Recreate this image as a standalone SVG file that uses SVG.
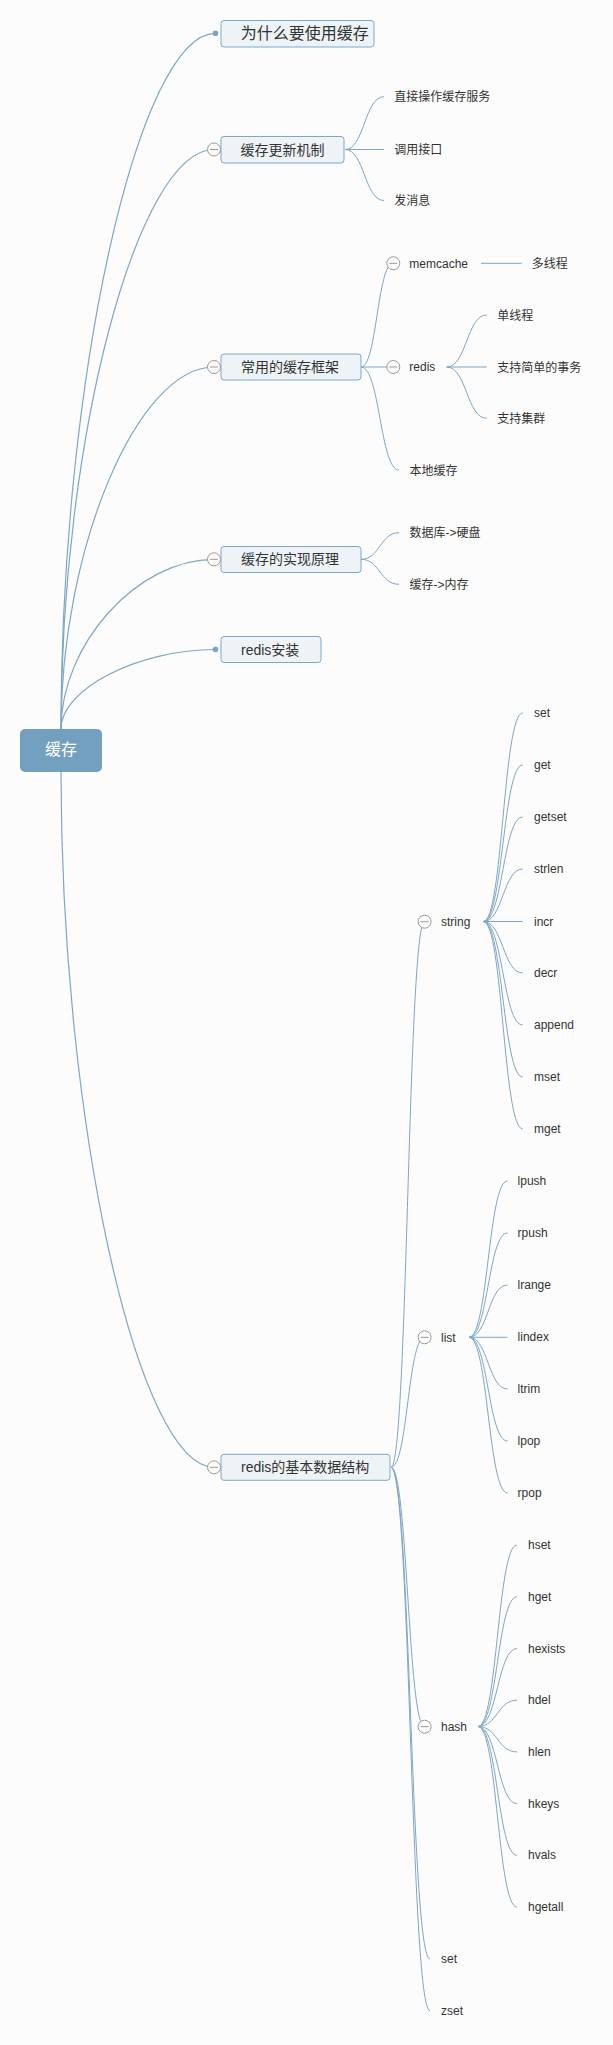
<svg xmlns="http://www.w3.org/2000/svg" width="613" height="2045" viewBox="0 0 613 2045">
<style>
.bg{fill:#fcfcfc}
.ln{fill:none;stroke:#7ea6c6;stroke-width:1}
.lr{fill:none;stroke:#7ea6c6;stroke-width:1.2}
.box{fill:#eef3f7;stroke:#7ea7c8;stroke-width:1}
.root{fill:#74a0c0}
.t{font-family:"Liberation Sans","Noto Sans CJK SC",sans-serif;fill:#333}
.t12{font-size:12px}
.t14{font-size:14px}
.t16{font-size:16px}
.rt{font-family:"Liberation Sans","Noto Sans CJK SC",sans-serif;font-size:16px;fill:#fff}
.col{fill:#fcfcfc;stroke:#9a9a9a;stroke-width:1}
.minus{stroke:#9a9a9a;stroke-width:1}
.dot{fill:#7aa3c5}
</style>
<rect class="bg" x="0" y="0" width="613" height="2045"/>
<g id="connectors">
<path class="lr" d="M61,729 C61,381 138,33.3 215.5,33.3"/>
<path class="lr" d="M61,729 C61,439 137.5,149.5 214,149.5"/>
<path class="lr" d="M61,729 C61,548 137.5,367 214,367"/>
<path class="lr" d="M61,729 C61,644 137.5,559.3 214,559.3"/>
<path class="lr" d="M61,729 C61,689 138,649.5 215.5,649.5"/>
<path class="lr" d="M61,772 C61,1120 137.5,1467.3 214,1467.3"/>
<path class="ln" d="M345,149.5 C364.5,149.5 364.5,96.7 384,96.7"/>
<path class="ln" d="M345,149.5 L384,149.5"/>
<path class="ln" d="M345,149.5 C364.5,149.5 364.5,200.5 384,200.5"/>
<path class="ln" d="M361,367 C377,367 377,263.3 393.3,263.3"/>
<path class="ln" d="M361,367 L393.3,367"/>
<path class="ln" d="M361,367 C380,367 380,470 399,470"/>
<path class="ln" d="M481,263.3 L521.7,263.3"/>
<path class="ln" d="M446.7,367 C466.7,367 466.7,315 486.7,315"/>
<path class="ln" d="M446.7,367 L486.7,367"/>
<path class="ln" d="M446.7,367 C466.7,367 466.7,418.3 486.7,418.3"/>
<path class="ln" d="M361,559.3 C380,559.3 380,532.7 399,532.7"/>
<path class="ln" d="M361,559.3 C380,559.3 380,584.3 399,584.3"/>
<path class="ln" d="M391,1467.3 C407.8,1467.3 407.8,921.7 424.6,921.7"/>
<path class="ln" d="M391,1467.3 C407.8,1467.3 407.8,1337.3 424.6,1337.3"/>
<path class="ln" d="M391,1467.3 C407.8,1467.3 407.8,1726.7 424.6,1726.7"/>
<path class="ln" d="M391,1467.3 C410.5,1467.3 410.5,1959 430,1959"/>
<path class="ln" d="M391,1467.3 C410.5,1467.3 410.5,2010.7 430,2010.7"/>
<path class="ln" d="M483.3,921.5 C503,921.5 503,713 522.7,713"/>
<path class="ln" d="M483.3,921.5 C503,921.5 503,765 522.7,765"/>
<path class="ln" d="M483.3,921.5 C503,921.5 503,817 522.7,817"/>
<path class="ln" d="M483.3,921.5 C503,921.5 503,869 522.7,869"/>
<path class="ln" d="M483.3,921.5 L522.7,921.5"/>
<path class="ln" d="M483.3,921.5 C503,921.5 503,973 522.7,973"/>
<path class="ln" d="M483.3,921.5 C503,921.5 503,1025 522.7,1025"/>
<path class="ln" d="M483.3,921.5 C503,921.5 503,1077 522.7,1077"/>
<path class="ln" d="M483.3,921.5 C503,921.5 503,1129 522.7,1129"/>
<path class="ln" d="M469,1337.3 C488.2,1337.3 488.2,1181 507.5,1181"/>
<path class="ln" d="M469,1337.3 C488.2,1337.3 488.2,1233 507.5,1233"/>
<path class="ln" d="M469,1337.3 C488.2,1337.3 488.2,1285 507.5,1285"/>
<path class="ln" d="M469,1337.3 L507.5,1337.3"/>
<path class="ln" d="M469,1337.3 C488.2,1337.3 488.2,1389 507.5,1389"/>
<path class="ln" d="M469,1337.3 C488.2,1337.3 488.2,1441 507.5,1441"/>
<path class="ln" d="M469,1337.3 C488.2,1337.3 488.2,1493 507.5,1493"/>
<path class="ln" d="M478,1726.5 C497.5,1726.5 497.5,1545 517,1545"/>
<path class="ln" d="M478,1726.5 C497.5,1726.5 497.5,1596.8 517,1596.8"/>
<path class="ln" d="M478,1726.5 C497.5,1726.5 497.5,1648.5 517,1648.5"/>
<path class="ln" d="M478,1726.5 C497.5,1726.5 497.5,1700.2 517,1700.2"/>
<path class="ln" d="M478,1726.5 C497.5,1726.5 497.5,1751.9 517,1751.9"/>
<path class="ln" d="M478,1726.5 C497.5,1726.5 497.5,1803.6 517,1803.6"/>
<path class="ln" d="M478,1726.5 C497.5,1726.5 497.5,1855.3 517,1855.3"/>
<path class="ln" d="M478,1726.5 C497.5,1726.5 497.5,1907 517,1907"/>
</g>
<g id="root">
<rect class="root" x="20" y="729" width="82" height="43" rx="5"/>
<text class="rt" x="61" y="755" text-anchor="middle">缓存</text>
</g>
<g id="n-why">
<rect class="box" x="221" y="20.5" width="153" height="26.5" rx="3"/>
<circle class="dot" cx="215.5" cy="33.3" r="2.8"/>
<text class="t t16" x="240.7" y="39">为什么要使用缓存</text>
</g>
<g id="n-update">
<rect class="box" x="221" y="136.5" width="123" height="26.5" rx="3"/>
<circle class="col" cx="214" cy="149.5" r="6.5"/><line class="minus" x1="210" y1="149.5" x2="218" y2="149.5"/>
<text class="t t14" x="240.5" y="154.5">缓存更新机制</text>
</g>
<g id="n-update-1"><text class="t t12" x="394.3" y="101">直接操作缓存服务</text></g>
<g id="n-update-2"><text class="t t12" x="394.3" y="153.5">调用接口</text></g>
<g id="n-update-3"><text class="t t12" x="394.3" y="205">发消息</text></g>
<g id="n-framework">
<rect class="box" x="221" y="354" width="140" height="26" rx="3"/>
<circle class="col" cx="214" cy="367" r="6.5"/><line class="minus" x1="210" y1="367" x2="218" y2="367"/>
<text class="t t14" x="241" y="372">常用的缓存框架</text>
</g>
<g id="n-memcache">
<circle class="col" cx="393.3" cy="263.3" r="6.5"/><line class="minus" x1="389.3" y1="263.3" x2="397.3" y2="263.3"/>
<text class="t t12" x="409.3" y="267.5">memcache</text>
</g>
<g id="n-multithread"><text class="t t12" x="531.7" y="267.8">多线程</text></g>
<g id="n-redis">
<circle class="col" cx="393.3" cy="367" r="6.5"/><line class="minus" x1="389.3" y1="367" x2="397.3" y2="367"/>
<text class="t t12" x="409.3" y="371.2">redis</text>
</g>
<g id="n-redis-1"><text class="t t12" x="497.3" y="319.5">单线程</text></g>
<g id="n-redis-2"><text class="t t12" x="497.3" y="371.5">支持简单的事务</text></g>
<g id="n-redis-3"><text class="t t12" x="497.3" y="422.8">支持集群</text></g>
<g id="n-local"><text class="t t12" x="409.5" y="474.5">本地缓存</text></g>
<g id="n-principle">
<rect class="box" x="221" y="546.5" width="140" height="26" rx="3"/>
<circle class="col" cx="214" cy="559.3" r="6.5"/><line class="minus" x1="210" y1="559.3" x2="218" y2="559.3"/>
<text class="t t14" x="241" y="564.3">缓存的实现原理</text>
</g>
<g id="n-principle-1"><text class="t t12" x="409.5" y="537.2">数据库-&gt;硬盘</text></g>
<g id="n-principle-2"><text class="t t12" x="409.5" y="588.8">缓存-&gt;内存</text></g>
<g id="n-install">
<rect class="box" x="221" y="636.5" width="100" height="26" rx="3"/>
<circle class="dot" cx="215.5" cy="649.5" r="2.8"/>
<text class="t t14" x="241" y="654.5">redis安装</text>
</g>
<g id="n-datastruct">
<rect class="box" x="221" y="1454.3" width="169" height="26" rx="3"/>
<circle class="col" cx="214" cy="1467.3" r="6.5"/><line class="minus" x1="210" y1="1467.3" x2="218" y2="1467.3"/>
<text class="t t14" x="241" y="1472.3">redis的基本数据结构</text>
</g>
<g id="n-string">
<circle class="col" cx="424.6" cy="921.7" r="6.5"/><line class="minus" x1="420.6" y1="921.7" x2="428.6" y2="921.7"/>
<text class="t t12" x="441" y="925.8">string</text>
</g>
<g id="n-string-items" class="t t12">
<text x="534" y="717">set</text>
<text x="534" y="769">get</text>
<text x="534" y="821">getset</text>
<text x="534" y="873">strlen</text>
<text x="534" y="925.5">incr</text>
<text x="534" y="977">decr</text>
<text x="534" y="1029">append</text>
<text x="534" y="1081">mset</text>
<text x="534" y="1133">mget</text>
</g>
<g id="n-list">
<circle class="col" cx="424.6" cy="1337.3" r="6.5"/><line class="minus" x1="420.6" y1="1337.3" x2="428.6" y2="1337.3"/>
<text class="t t12" x="441" y="1341.5">list</text>
</g>
<g id="n-list-items" class="t t12">
<text x="517.6" y="1185">lpush</text>
<text x="517.6" y="1237">rpush</text>
<text x="517.6" y="1289">lrange</text>
<text x="517.6" y="1341.3">lindex</text>
<text x="517.6" y="1393">ltrim</text>
<text x="517.6" y="1445">lpop</text>
<text x="517.6" y="1497">rpop</text>
</g>
<g id="n-hash">
<circle class="col" cx="424.6" cy="1726.7" r="6.5"/><line class="minus" x1="420.6" y1="1726.7" x2="428.6" y2="1726.7"/>
<text class="t t12" x="441" y="1730.9">hash</text>
</g>
<g id="n-hash-items" class="t t12">
<text x="528" y="1549">hset</text>
<text x="528" y="1600.8">hget</text>
<text x="528" y="1652.5">hexists</text>
<text x="528" y="1704.2">hdel</text>
<text x="528" y="1755.9">hlen</text>
<text x="528" y="1807.6">hkeys</text>
<text x="528" y="1859.3">hvals</text>
<text x="528" y="1911">hgetall</text>
</g>
<g id="n-set"><text class="t t12" x="441" y="1963">set</text></g>
<g id="n-zset"><text class="t t12" x="441" y="2014.7">zset</text></g>
</svg>
